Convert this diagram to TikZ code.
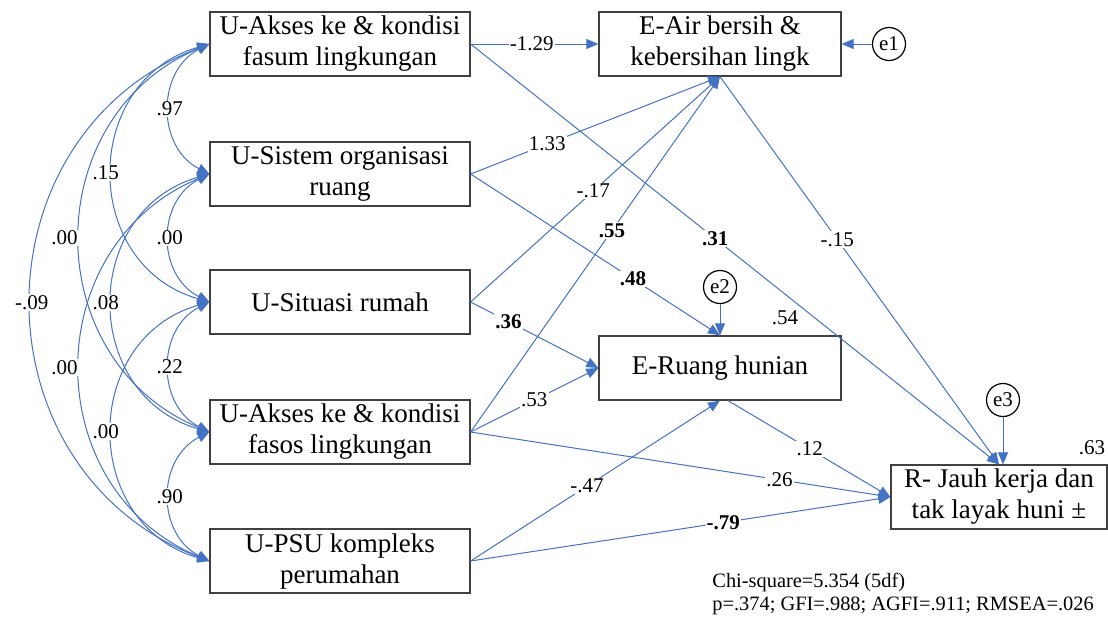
\documentclass[tikz,border=0pt]{standalone}
\usepackage{fontspec}
\IfFontExistsTF{LiberationSerif-Regular.ttf}
  {\setmainfont{LiberationSerif-Regular.ttf}[BoldFont=LiberationSerif-Bold.ttf]}
  {\setmainfont{Liberation Serif}}
\usetikzlibrary{arrows.meta}
\definecolor{amosblue}{RGB}{68,114,196}
\definecolor{boxgray}{RGB}{64,64,64}
\begin{document}
\begin{tikzpicture}[x=0.5pt,y=-0.5pt,
  box/.style={draw=boxgray, line width=0.6pt, minimum width=130pt, minimum height=32pt,
    inner sep=0pt, align=center, font=\rmfamily\fontsize{13.5}{15.5}\selectfont},
  ebox/.style={box, minimum width=121pt},
  rbox/.style={box, minimum width=108pt},
  err/.style={circle, draw=black, line width=0.6pt, minimum size=16.5pt, inner sep=0pt,
    font=\rmfamily\fontsize{10.5}{12}\selectfont},
  conn/.style={draw=amosblue, line width=0.5pt, -{Triangle[length=6pt,width=5pt]}},
  cov/.style={draw=amosblue, line width=0.5pt,
    {Triangle[length=6pt,width=5pt]}-{Triangle[length=6pt,width=5pt]}},
  lab/.style={fill=white, inner sep=0.6pt, font=\rmfamily\fontsize{10.5}{12}\selectfont},
  blab/.style={lab, font=\rmfamily\fontsize{10.5}{12}\selectfont\bfseries},
  txt/.style={inner sep=0pt, font=\rmfamily\fontsize{10.5}{12}\selectfont}
]
\useasboundingbox (0,0) rectangle (1108,617);

% boxes
\node[box] (b1) at (340,44) {U-Akses ke \& kondisi\\fasum lingkungan};
\node[box] (b2) at (340,174) {U-Sistem organisasi\\ruang};
\node[box] (b3) at (340,302) {U-Situasi rumah};
\node[box] (b4) at (340,432) {U-Akses ke \& kondisi\\fasos lingkungan};
\node[box] (b5) at (340,561) {U-PSU kompleks\\perumahan};
\node[ebox] (ea) at (720,44) {E-Air bersih \&\\kebersihan lingk};
\node[ebox] (er) at (720,368) {E-Ruang hunian};
\node[rbox] (r) at (999,497) {R- Jauh kerja dan\\tak layak huni ±};
\node[err] (e1) at (889,44) {e1};
\node[err] (e2) at (720,287) {e2};
\node[err] (e3) at (1003,400) {e3};

% covariances
\draw[cov] (b1.west) .. controls +(-53,27) and +(-53,-27) .. coordinate[pos=.5] (c12) (b2.west);
\draw[cov] (b2.west) .. controls +(-53,27) and +(-53,-27) .. coordinate[pos=.5] (c23) (b3.west);
\draw[cov] (b3.west) .. controls +(-53,27) and +(-53,-27) .. coordinate[pos=.5] (c34) (b4.west);
\draw[cov] (b4.west) .. controls +(-53,27) and +(-53,-27) .. coordinate[pos=.5] (c45) (b5.west);
\draw[cov] (b1.west) .. controls +(-129,37) and +(-129,-37) .. coordinate[pos=.5] (c13) (b3.west);
\draw[cov] (b2.west) .. controls +(-129,37) and +(-129,-37) .. coordinate[pos=.5] (c24) (b4.west);
\draw[cov] (b3.west) .. controls +(-129,37) and +(-129,-37) .. coordinate[pos=.5] (c35) (b5.west);
\draw[cov] (b1.west) .. controls +(-172,72) and +(-172,-72) .. coordinate[pos=.5] (c14) (b4.west);
\draw[cov] (b2.west) .. controls +(-172,72) and +(-172,-72) .. coordinate[pos=.5] (c25) (b5.west);
\draw[cov] (b1.west) .. controls +(-237,91) and +(-237,-91) .. coordinate[pos=.5] (c15) (b5.west);

% paths
\draw[conn] (b1.east) -- coordinate[pos=.478] (p1) (ea.west);
\draw[conn] (b1.east) -- coordinate[pos=.463] (p2) (r.north);
\draw[conn] (b2.east) -- coordinate[pos=.307] (p3) (ea.south);
\draw[conn] (b2.east) -- coordinate[pos=.651] (p4) (er.north);
\draw[conn] (b3.east) -- coordinate[pos=.492] (p5) (ea.south);
\draw[conn] (b3.east) -- coordinate[pos=.297] (p6) (er.west);
\draw[conn] (b4.east) -- coordinate[pos=.567] (p7) (ea.south);
\draw[conn] (b4.east) -- coordinate[pos=.498] (p8) (er.west);
\draw[conn] (b4.east) -- coordinate[pos=.736] (p9) (r.west);
\draw[conn] (b5.east) -- coordinate[pos=.467] (p10) (er.south);
\draw[conn] (b5.east) -- coordinate[pos=.602] (p11) (r.west);
\draw[conn] ([xshift=4pt]er.south) -- coordinate[pos=.503] (p12) (r.west);
\draw[conn] (ea.south) -- coordinate[pos=.42] (p13) (r.north);
\draw[conn] (e1) -- (ea.east);
\draw[conn] (e2) -- (er.north);
\draw[conn] (e3) -- (e3 |- r.north);

% covariance labels
\node[lab] at (c12) {.97};
\node[lab] at (c23) {.00};
\node[lab] at (c34) {.22};
\node[lab] at (c45) {.90};
\node[lab, xshift=-3.5pt] at (c13) {.15};
\node[lab, xshift=-3.5pt] at (c24) {.08};
\node[lab, xshift=-3.5pt] at (c35) {.00};
\node[lab, xshift=-8pt] at (c14) {.00};
\node[lab, xshift=-8pt] at (c25) {.00};
\node[lab] at (c15) {-.09};

% path labels
\node[lab] at (p1) {-1.29};
\node[blab] at (p2) {.31};
\node[lab] at (p3) {1.33};
\node[blab] at (p4) {.48};
\node[lab] at (p5) {-.17};
\node[blab] at (p6) {.36};
\node[blab] at (p7) {.55};
\node[lab] at (p8) {.53};
\node[lab] at (p9) {.26};
\node[lab] at (p10) {-.47};
\node[blab] at (p11) {-.79};
\node[lab] at (p12) {.12};
\node[lab] at (p13) {-.15};

% squared multiple correlations
\node[txt] (s2) at (785,318) {.54};
\node[txt] (s3) at (1092,448) {.63};

% fit statistics
\node[txt, anchor=west, align=left, font=\rmfamily\fontsize{10.2}{11.5}\selectfont] (fit) at (712,594)
  {Chi-square=5.354 (5df)\\p=.374; GFI=.988; AGFI=.911; RMSEA=.026};
\end{tikzpicture}
\end{document}
